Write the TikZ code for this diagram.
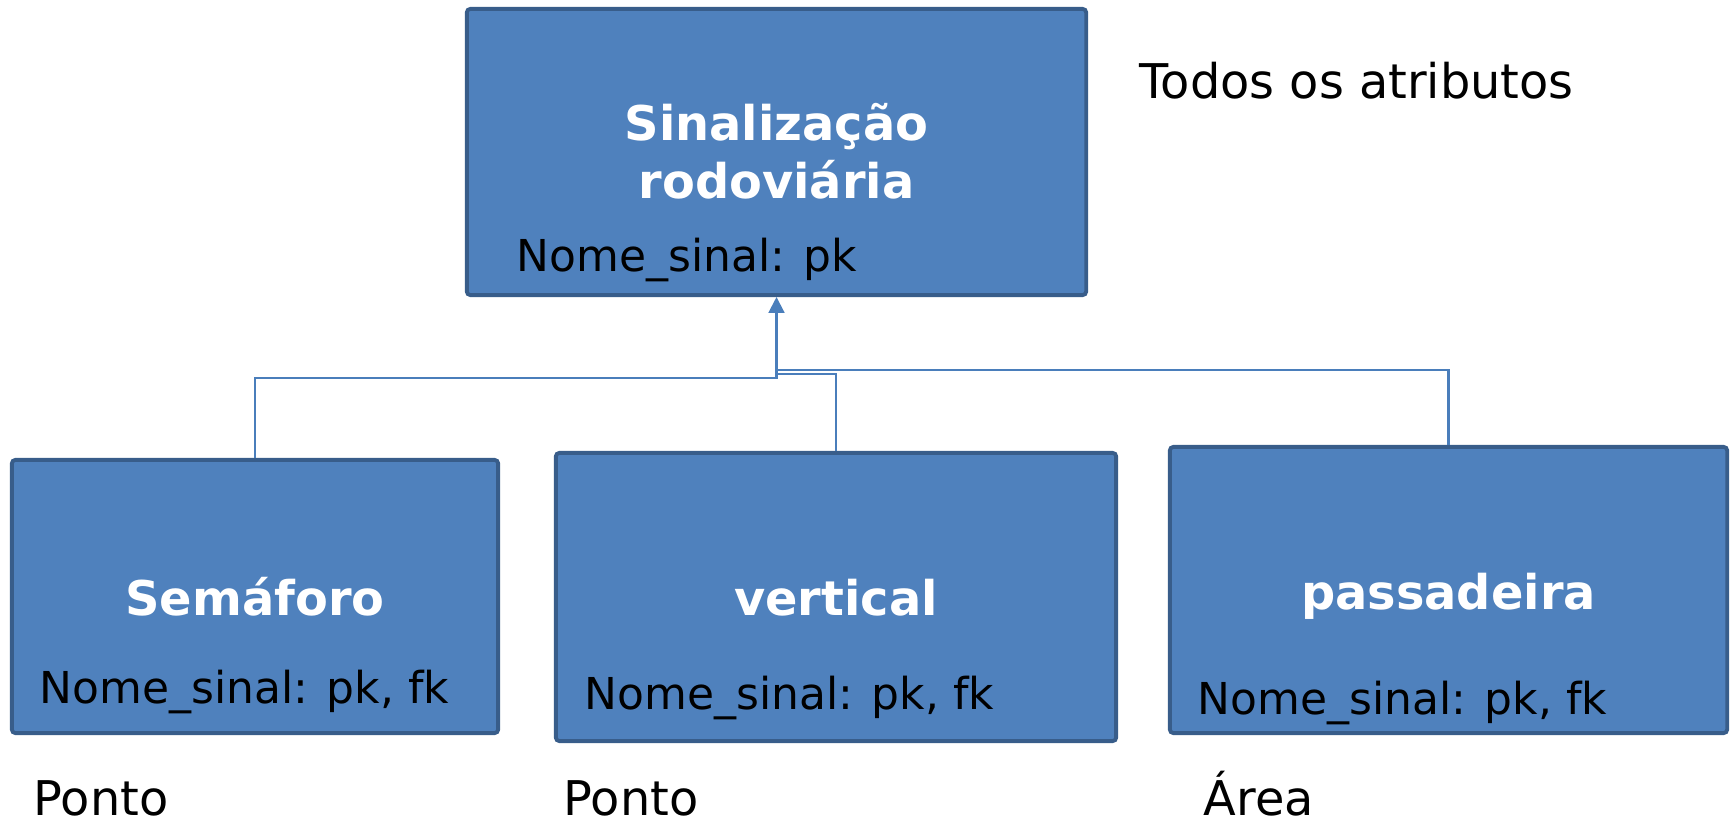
\documentclass[tikz,border=0pt]{standalone}
\usepackage{fontspec}
\setmainfont{DejaVu Sans}
\usepackage{xcolor}
\usetikzlibrary{positioning,calc,arrows.meta}

\definecolor{boxfill}{HTML}{4F81BD}
\definecolor{boxline}{HTML}{385D8A}
\definecolor{connline}{HTML}{4A7EBB}

\tikzset{
  entbox/.style={draw=boxline, fill=boxfill, line width=1.1pt, rounded corners=1pt, inner sep=0pt},
  title/.style={anchor=base, text=white, inner sep=0pt, font=\fontsize{13.6}{16.6}\selectfont\bfseries, align=center},
  attr/.style={anchor=base west, inner sep=0pt, font=\fontsize{12.5}{15}\selectfont},
  note/.style={anchor=base west, inner sep=0pt, font=\fontsize{13.6}{16}\selectfont},
  conn/.style={draw=connline, line width=0.6pt}
}

\begin{document}
\begin{tikzpicture}[x=0.01cm, y=-0.01cm]
  \useasboundingbox (0,0) rectangle (1734,828);

  % Parent entity
  \node[entbox, minimum width=6.19cm, minimum height=2.86cm] (sinal) at (776.5,152) {};
  \node[title] (sinaltxt) at (776.5,199) {Sinalização\\rodoviária};
  \node[attr] (sinalattr) at (516,272) {Nome\_sinal: pk};
  \node[note] (todos) at (1139,99) {Todos os atributos};

  % Child entities
  \node[entbox, minimum width=4.86cm, minimum height=2.73cm] (sema) at (255,596.5) {};
  \node[title] (sematxt) at (255,616) {Semáforo};
  \node[attr] (semaattr) at (39,703) {Nome\_sinal: pk, fk};

  \node[entbox, minimum width=5.60cm, minimum height=2.88cm] (vert) at (836,597) {};
  \node[title] (verttxt) at (836,616) {vertical};
  \node[attr] (vertattr) at (584,709) {Nome\_sinal: pk, fk};

  \node[entbox, minimum width=5.57cm, minimum height=2.86cm] (pass) at (1448.5,590) {};
  \node[title] (passtxt) at (1448.5,610) {passadeira};
  \node[attr] (passattr) at (1197,714) {Nome\_sinal: pk, fk};

  % Geometry types
  \node[note] (geo1) at (33,815) {Ponto};
  \node[note] (geo2) at (563,815) {Ponto};
  \node[note] (geo3) at (1203,815) {Área};

  % Generalisation lines
  \coordinate (j1) at (776.5,378);
  \coordinate (j2) at (776.5,374);
  \coordinate (j3) at (776.5,370);
  \draw[conn, -{Triangle[width=4.5pt, length=4.5pt]}] (sema.north) |- (j1) -- (sinal.south);
  \draw[conn] (vert.north) |- (j2);
  \draw[conn] (pass.north) |- (j3);
\end{tikzpicture}
\end{document}
